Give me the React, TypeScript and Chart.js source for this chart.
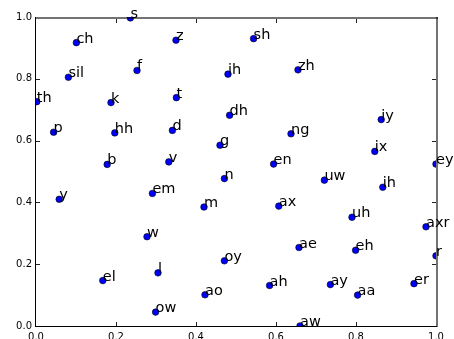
import React, { useEffect, useRef } from "react";
import { Chart, registerables } from "chart.js";

Chart.register(...registerables);

const phonemes = [
  "s", "ch", "z", "sh", "sil", "f", "ih", "zh", "th", "k", "t", "dh", "iy",
  "p", "hh", "d", "g", "ng", "ix", "b", "v", "en", "ey", "y", "em", "n", "uw",
  "ih", "m", "ax", "uh", "axr", "w", "ae", "eh", "r", "oy", "l", "el", "ah",
  "ay", "er", "ao", "aa", "ow", "aw",
];
const xValues = [
  0.236, 0.101, 0.35, 0.544, 0.081, 0.2525, 0.48, 0.655, 0.002, 0.1875, 0.351, 0.484, 0.863,
  0.044, 0.197, 0.341, 0.46, 0.6375, 0.847, 0.178, 0.332, 0.594, 1.0, 0.058, 0.291, 0.471, 0.721,
  0.867, 0.42, 0.607, 0.79, 0.975, 0.2775, 0.6575, 0.799, 1.0, 0.471, 0.305, 0.167, 0.584,
  0.736, 0.945, 0.4225, 0.804, 0.299, 0.66,
];
const yValues = [
  0.997, 0.917, 0.925, 0.93, 0.805, 0.827, 0.815, 0.829, 0.726, 0.723, 0.739, 0.682, 0.668,
  0.627, 0.625, 0.633, 0.585, 0.622, 0.565, 0.523, 0.531, 0.524, 0.524, 0.41, 0.429, 0.477, 0.472,
  0.449, 0.385, 0.388, 0.352, 0.321, 0.289, 0.254, 0.245, 0.227, 0.211, 0.172, 0.147, 0.131,
  0.134, 0.137, 0.101, 0.1, 0.045, 0.0,
];
const tickValues = [0, 0.2, 0.4, 0.6, 0.8, 1.0];

const framePlugin = {
  id: "framePlugin",
  afterDatasetsDraw(chart: any) {
    const ctx = chart.ctx;
    const { left, right, top, bottom } = chart.chartArea;
    const xs = chart.scales.x;
    const ys = chart.scales.y;
    ctx.save();
    // frame
    ctx.fillStyle = "rgba(0,0,0,0.55)";
    ctx.fillRect(left - 1, top, right - left + 3, 2);
    ctx.fillRect(right, top, 2, bottom - top + 1);
    ctx.fillStyle = "#000";
    ctx.fillRect(left - 1, top, 1, bottom - top + 1);
    ctx.fillRect(left - 1, bottom, right - left + 2, 1);
    // inward ticks
    ctx.fillStyle = "#222";
    const inner = tickValues.slice(1, -1);
    inner.forEach((v) => {
      const px = Math.round(xs.getPixelForValue(v));
      ctx.fillRect(px, bottom - 4, 1, 4);
      ctx.fillRect(px, top + 2, 1, 4);
      const py = Math.round(ys.getPixelForValue(v));
      ctx.fillRect(left, py, 4, 1);
      ctx.fillRect(right - 4, py, 4, 1);
    });
    // point labels
    const meta = chart.getDatasetMeta(0);
    ctx.fillStyle = "#000";
    ctx.font = "14.5px 'DejaVu Sans'";
    ctx.textAlign = "left";
    ctx.textBaseline = "alphabetic";
    meta.data.forEach((pt: any, i: number) => {
      ctx.fillText(phonemes[i], pt.x, pt.y);
    });
    ctx.restore();
  },
};

export default function App() {
  const ref = useRef<HTMLCanvasElement>(null);
  useEffect(() => {
    if (!ref.current) return;
    const chart = new Chart(ref.current, {
      type: "scatter",
      data: {
        datasets: [
          {
            data: xValues.map((x, i) => ({ x, y: yValues[i] })),
            backgroundColor: "#0000ff",
            borderColor: "#000",
            borderWidth: 0.6,
            pointRadius: 3.3,
            clip: 0,
          } as any,
        ],
      },
      options: {
        animation: false,
        responsive: false,
        devicePixelRatio: 1,
        events: [],
        layout: { padding: { top: 17, right: 18, left: 0, bottom: 0 } },
        plugins: { legend: { display: false }, tooltip: { enabled: false } },
        scales: {
          x: {
            type: "linear",
            min: 0,
            max: 1,
            afterFit: (s: any) => {
              s.height = 13;
            },
            afterBuildTicks: (s: any) => {
              s.ticks = tickValues.map((v) => ({ value: v }));
            },
            grid: { display: false, drawTicks: false },
            border: { display: false },
            ticks: {
              padding: 5,
              color: "#000",
              font: { family: "DejaVu Sans", size: 10 },
              maxRotation: 0,
              autoSkip: false,
              callback: (v: any) => Number(v).toFixed(1),
            },
          },
          y: {
            type: "linear",
            min: 0,
            max: 1,
            afterFit: (s: any) => {
              s.width = 36;
            },
            afterBuildTicks: (s: any) => {
              s.ticks = tickValues.map((v) => ({ value: v }));
            },
            grid: { display: false, drawTicks: false },
            border: { display: false },
            ticks: {
              padding: 4,
              color: "#000",
              font: { family: "DejaVu Sans", size: 10 },
              autoSkip: false,
              callback: (v: any) => Number(v).toFixed(1),
            },
          },
        },
      },
      plugins: [framePlugin],
    });
    return () => chart.destroy();
  }, []);
  return (
    <div style={{ position: "absolute", left: 0, top: 0, width: 454, height: 339, background: "#fff" }}>
      <canvas ref={ref} width={454} height={339} style={{ width: 454, height: 339, display: "block" }} />
    </div>
  );
}
